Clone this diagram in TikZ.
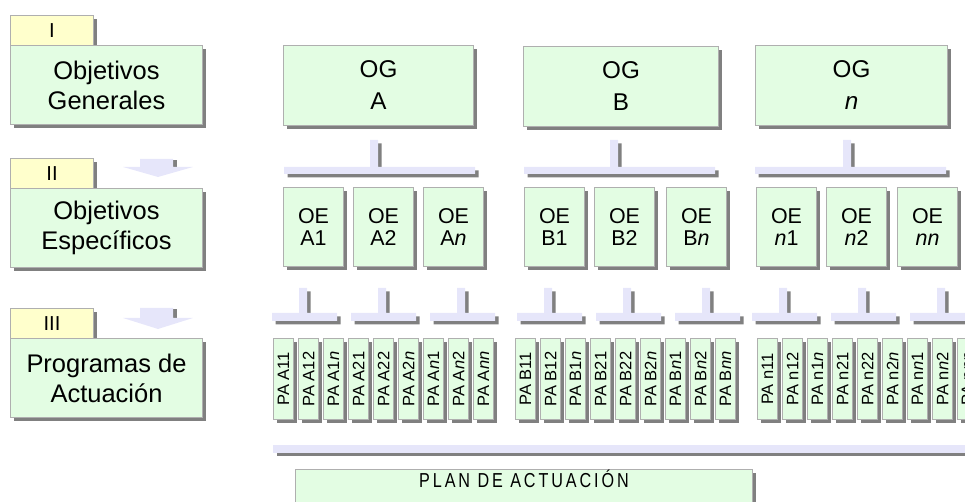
\documentclass[tikz,border=0pt]{standalone}
\usepackage{fontspec}
\setmainfont{Liberation Sans}
\newfontfamily\spacedfont[LetterSpace=18]{Liberation Sans}
\usetikzlibrary{shadows}
\definecolor{mint}{RGB}{227,253,227}
\definecolor{tabyellow}{RGB}{255,255,204}
\definecolor{lav}{RGB}{230,230,250}
\definecolor{shadegray}{RGB}{128,128,128}
\definecolor{edgegray}{RGB}{175,175,175}
\tikzset{
  boxshadow/.style={drop shadow={shadow xshift=0.07cm, shadow yshift=-0.07cm, fill=shadegray, opacity=1}},
  box/.style={boxshadow, draw=edgegray, fill=mint, line width=0.6pt, inner sep=0pt, anchor=north west, align=center},
  tabbox/.style={box, fill=tabyellow, minimum width=1.66cm, minimum height=0.6cm, font=\fontsize{11.5}{13}\selectfont},
  levelbox/.style={box, minimum width=3.84cm, minimum height=1.58cm, font=\fontsize{14.5}{17}\selectfont},
  ogbox/.style={box, minimum height=1.6cm, font=\fontsize{13.8}{18.2}\selectfont},
  oebox/.style={box, minimum width=1.2cm, minimum height=1.58cm, font=\fontsize{12.2}{12.8}\selectfont},
  pabox/.style={box, minimum width=0.4cm, minimum height=1.62cm, font=\fontsize{9.4}{10}\selectfont},
  tee/.style={boxshadow, fill=lav},
  chevron/.style={fill=lav}
}
\begin{document}
\begin{tikzpicture}[x=0.02cm,y=-0.02cm]
\useasboundingbox (0,0) rectangle (965,502);
\clip (0,0) rectangle (965,502);
% levels
\node[tabbox] (tabI) at (10,15) {I};
\node[levelbox] (levI) at (10,45) {Objetivos\\Generales};
\node[tabbox] (tabII) at (10,158) {II};
\node[levelbox] (levII) at (10,188) {Objetivos\\Específicos};
\node[tabbox] (tabIII) at (10,308) {III};
\node[levelbox] (levIII) at (10,338) {Programas de\\Actuación};
\fill[shadegray] (173,160) rectangle (177,168);
\fill[chevron] (140,159) -- (173,159) -- (173,167) -- (193,167) -- (158,177) -- (123,167) -- (140,167) -- cycle;
\fill[shadegray] (173,309) rectangle (177,319);
\fill[chevron] (140,308) -- (173,308) -- (173,318) -- (193,318) -- (158,329) -- (123,318) -- (140,318) -- cycle;
% objetivos generales
\node[ogbox, minimum width=3.8cm] (ogA) at (283,45) {OG\\A};
\node[ogbox, minimum width=3.9cm] (ogB) at (523,46) {OG\\B};
\node[ogbox, minimum width=3.84cm] (ogN) at (755,45) {OG\\\textit{n}};
\fill[tee] (370,140) rectangle (378,167) (284,167) rectangle (475,174);
\fill[tee] (610,140) rectangle (618,167) (524,167) rectangle (715,174);
\fill[tee] (843,140) rectangle (851,167) (755,167) rectangle (946,174);
% objetivos especificos
\node[oebox] (oeA1) at (283,187) {OE\\A1};
\node[oebox] (oeA2) at (353,187) {OE\\A2};
\node[oebox] (oeAn) at (423,187) {OE\\A\textit{n}};
\node[oebox] (oeB1) at (524,187) {OE\\B1};
\node[oebox] (oeB2) at (594,187) {OE\\B2};
\node[oebox] (oeBn) at (666,187) {OE\\B\textit{n}};
\node[oebox] (oeN1) at (756,187) {OE\\\textit{n}1};
\node[oebox] (oeN2) at (826,187) {OE\\\textit{n}2};
\node[oebox] (oeNn) at (897,187) {OE\\\textit{nn}};
\fill[tee] (299,288) rectangle (307,313) (272,313) rectangle (337,321);
\fill[tee] (378,288) rectangle (386,313) (351,313) rectangle (416,321);
\fill[tee] (457,288) rectangle (465,313) (430,313) rectangle (495,321);
\fill[tee] (544,288) rectangle (552,313) (517,313) rectangle (582,321);
\fill[tee] (623,288) rectangle (631,313) (596,313) rectangle (661,321);
\fill[tee] (702,288) rectangle (710,313) (675,313) rectangle (740,321);
\fill[tee] (779,288) rectangle (787,313) (752,313) rectangle (817,321);
\fill[tee] (858,288) rectangle (866,313) (831,313) rectangle (896,321);
\fill[tee] (937,288) rectangle (945,313) (910,313) rectangle (975,321);
% programas de actuacion
\node[pabox] (paA11) at (273,338) {\rotatebox{90}{PA A11}};
\node[pabox] (paA12) at (298,338) {\rotatebox{90}{PA A12}};
\node[pabox] (paA1n) at (323,338) {\rotatebox{90}{PA A1\textit{n}}};
\node[pabox] (paA21) at (348,338) {\rotatebox{90}{PA A21}};
\node[pabox] (paA22) at (373,338) {\rotatebox{90}{PA A22}};
\node[pabox] (paA2n) at (398,338) {\rotatebox{90}{PA A2\textit{n}}};
\node[pabox] (paAn1) at (423,338) {\rotatebox{90}{PA A\textit{n}1}};
\node[pabox] (paAn2) at (448,338) {\rotatebox{90}{PA A\textit{n}2}};
\node[pabox] (paAnn) at (473,338) {\rotatebox{90}{PA A\textit{nn}}};
\node[pabox] (paB11) at (515,338) {\rotatebox{90}{PA B11}};
\node[pabox] (paB12) at (540,338) {\rotatebox{90}{PA B12}};
\node[pabox] (paB1n) at (565,338) {\rotatebox{90}{PA B1\textit{n}}};
\node[pabox] (paB21) at (590,338) {\rotatebox{90}{PA B21}};
\node[pabox] (paB22) at (615,338) {\rotatebox{90}{PA B22}};
\node[pabox] (paB2n) at (640,338) {\rotatebox{90}{PA B2\textit{n}}};
\node[pabox] (paBn1) at (665,338) {\rotatebox{90}{PA B\textit{n}1}};
\node[pabox] (paBn2) at (690,338) {\rotatebox{90}{PA B\textit{n}2}};
\node[pabox] (paBnn) at (715,338) {\rotatebox{90}{PA B\textit{nn}}};
\node[pabox] (paN11) at (757,338) {\rotatebox{90}{PA n11}};
\node[pabox] (paN12) at (782,338) {\rotatebox{90}{PA n12}};
\node[pabox] (paN1n) at (807,338) {\rotatebox{90}{PA n1\textit{n}}};
\node[pabox] (paN21) at (832,338) {\rotatebox{90}{PA n21}};
\node[pabox] (paN22) at (857,338) {\rotatebox{90}{PA n22}};
\node[pabox] (paN2n) at (882,338) {\rotatebox{90}{PA n2\textit{n}}};
\node[pabox] (paNn1) at (907,338) {\rotatebox{90}{PA n\textit{n}1}};
\node[pabox] (paNn2) at (932,338) {\rotatebox{90}{PA n\textit{n}2}};
\node[pabox] (paNnn) at (957,338) {\rotatebox{90}{PA n\textit{nn}}};
% plan
\fill[tee] (273,445) rectangle (990,453);
\node[box, minimum width=9.14cm, inner ysep=0.07cm, text height=0.29cm, text depth=1cm] (plan) at (295,469) {\scalebox{0.8}[1]{\spacedfont\fontsize{11.5}{14}\selectfont PLAN DE ACTUACIÓN}};
\end{tikzpicture}
\end{document}
